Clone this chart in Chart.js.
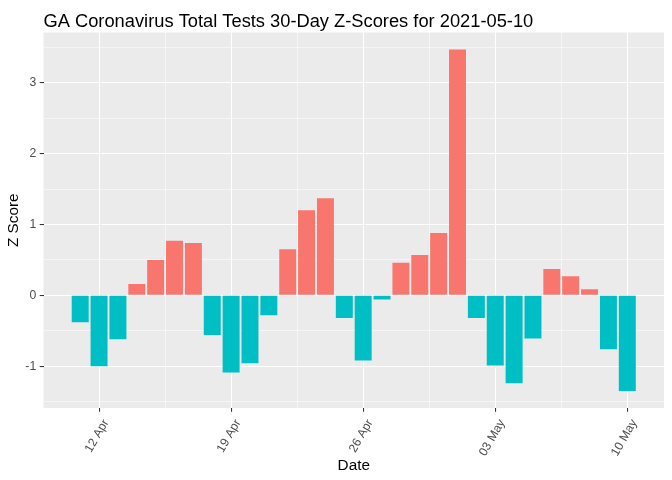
<!DOCTYPE html>
<html>
<head>
<meta charset="utf-8">
<script src="https://cdn.jsdelivr.net/npm/chart.js@4"></script>
<style>
  html, body { margin: 0; padding: 0; background: #ffffff; }
  #wrap { width: 672px; height: 480px; }
</style>
</head>
<body>
<div id="wrap"><canvas id="c" width="672" height="480"></canvas></div>
<script>
// ---- data ----
const titleText = 'GA Coronavirus Total Tests 30-Day Z-Scores for 2021-05-10';
const xTitle = 'Date';
const yTitle = 'Z Score';
const dates = [
  '2021-04-11','2021-04-12','2021-04-13','2021-04-14','2021-04-15','2021-04-16','2021-04-17',
  '2021-04-18','2021-04-19','2021-04-20','2021-04-21','2021-04-22','2021-04-23','2021-04-24',
  '2021-04-25','2021-04-26','2021-04-27','2021-04-28','2021-04-29','2021-04-30','2021-05-01',
  '2021-05-02','2021-05-03','2021-05-04','2021-05-05','2021-05-06','2021-05-07','2021-05-08',
  '2021-05-09','2021-05-10'
];
const zScores = [
  -0.38, -1.00, -0.62, 0.16, 0.50, 0.77, 0.74,
  -0.56, -1.09, -0.96, -0.28, 0.65, 1.20, 1.37,
  -0.32, -0.92, -0.06, 0.46, 0.57, 0.88, 3.47,
  -0.32, -0.99, -1.24, -0.61, 0.37, 0.27, 0.085,
  -0.76, -1.35
];
const xTickDates = ['2021-04-12','2021-04-19','2021-04-26','2021-05-03','2021-05-10'];
const xTickLabels = ['12 Apr','19 Apr','26 Apr','03 May','10 May'];
const yTickValues = [-1, 0, 1, 2, 3];
const yTickLabels = ['-1', '0', '1', '2', '3'];
const yMinorValues = [-1.5, -0.5, 0.5, 1.5, 2.5, 3.5];

const posColor = '#F8766D';
const negColor = '#00BFC4';

// ---- derived ----
const xIndex = d => dates.indexOf(d);
const xMajor = xTickDates.map(xIndex);
const xMinor = [];
for (let i = 0; i < xMajor.length - 1; i++) xMinor.push((xMajor[i] + xMajor[i + 1]) / 2);
const points = dates.map((d, i) => ({ x: i, y: zScores[i] }));
const colors = zScores.map(v => v > 0 ? posColor : negColor);

const n = dates.length;
const xLo = -0.45, xHi = (n - 1) + 0.45;
const xPad = (xHi - xLo) * 0.05;
const yLo = Math.min(0, ...zScores), yHi = Math.max(0, ...zScores);
const yPad = (yHi - yLo) * 0.05;

const FONT = '"Liberation Sans", Arial, sans-serif';
const isMajorX = v => xMajor.some(m => Math.abs(m - v) < 1e-6);
const isMajorY = v => yTickValues.some(m => Math.abs(m - v) < 1e-6);

const panelBg = {
  id: 'panelBg',
  beforeDraw(chart) {
    const { ctx, chartArea: a } = chart;
    ctx.save();
    ctx.fillStyle = '#EBEBEB';
    ctx.fillRect(a.left, a.top, a.right - a.left, a.bottom - a.top);
    ctx.restore();
  },
  afterDraw(chart) {
    const { ctx, chartArea: a } = chart;
    ctx.save();
    ctx.fillStyle = '#000000';
    ctx.font = '18.3px ' + FONT;
    ctx.textAlign = 'left';
    ctx.textBaseline = 'alphabetic';
    ctx.fillText(titleText, a.left, 27);
    ctx.font = '15.3px ' + FONT;
    ctx.textAlign = 'center';
    ctx.fillText(xTitle, (a.left + a.right) / 2, 469.5);
    ctx.translate(17.5, (a.top + a.bottom) / 2);
    ctx.rotate(-Math.PI / 2);
    ctx.fillText(yTitle, 0, 0);
    ctx.restore();
  }
};

new Chart(document.getElementById('c'), {
  type: 'bar',
  data: {
    datasets: [{
      data: points,
      backgroundColor: colors,
      borderWidth: 0,
      barPercentage: 0.9,
      categoryPercentage: 1.0
    }]
  },
  options: {
    responsive: false,
    animation: false,
    devicePixelRatio: 1,
    layout: { padding: { top: 32.5, right: 8, left: 0, bottom: 0 } },
    plugins: { legend: { display: false }, title: { display: false }, tooltip: { enabled: false } },
    scales: {
      x: {
        type: 'linear',
        offset: false,
        min: xLo - xPad,
        max: xHi + xPad,
        afterBuildTicks(scale) {
          scale.ticks = [...xMajor, ...xMinor].sort((a, b) => a - b).map(v => ({ value: v }));
        },
        afterFit(scale) { scale.height = 72; },
        border: { display: false },
        grid: {
          offset: false,
          color: '#FFFFFF',
          lineWidth: c => (c.tick && isMajorX(c.tick.value)) ? 1.07 : 0.53,
          drawTicks: true,
          tickLength: 3.8,
          tickWidth: 1.07,
          tickColor: c => (c.tick && isMajorX(c.tick.value)) ? '#333333' : 'rgba(0,0,0,0)'
        },
        ticks: {
          autoSkip: false,
          minRotation: 60,
          maxRotation: 60,
          padding: 5,
          labelOffset: 7,
          color: '#4D4D4D',
          font: { family: FONT, size: 12.2 },
          callback(v) {
            const k = xMajor.findIndex(m => Math.abs(m - v) < 1e-6);
            return k >= 0 ? xTickLabels[k] : '';
          }
        }
      },
      y: {
        type: 'linear',
        min: yLo - yPad,
        max: yHi + yPad,
        afterBuildTicks(scale) {
          scale.ticks = [...yTickValues, ...yMinorValues].sort((a, b) => a - b).map(v => ({ value: v }));
        },
        afterFit(scale) { scale.width = 43.5; },
        border: { display: false },
        grid: {
          color: '#FFFFFF',
          lineWidth: c => (c.tick && isMajorY(c.tick.value)) ? 1.07 : 0.53,
          drawTicks: true,
          tickLength: 3.8,
          tickWidth: 1.07,
          tickColor: c => (c.tick && isMajorY(c.tick.value)) ? '#333333' : 'rgba(0,0,0,0)'
        },
        ticks: {
          padding: 3.5,
          color: '#4D4D4D',
          font: { family: FONT, size: 12.2 },
          callback(v) {
            const k = yTickValues.findIndex(m => Math.abs(m - v) < 1e-6);
            return k >= 0 ? yTickLabels[k] : '';
          }
        }
      }
    }
  },
  plugins: [panelBg]
});
</script>
</body>
</html>
